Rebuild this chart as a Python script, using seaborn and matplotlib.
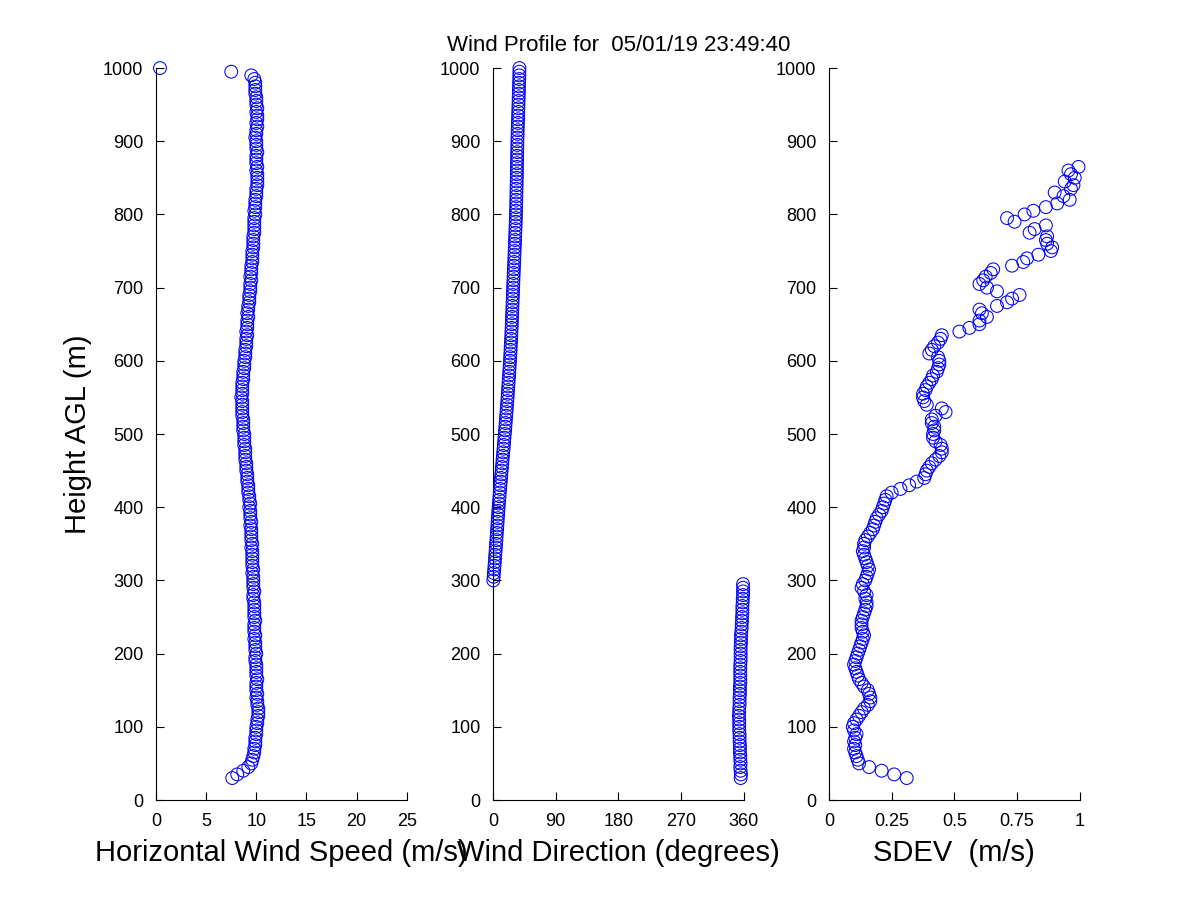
import matplotlib
matplotlib.use("Agg")
import matplotlib.pyplot as plt
import numpy as np
import pandas as pd
import seaborn as sns

# range gates (m AGL)
heights = [
    30, 35, 40, 45, 50, 55, 60, 65, 70, 75,
    80, 85, 90, 95, 100, 105, 110, 115, 120, 125,
    130, 135, 140, 145, 150, 155, 160, 165, 170, 175,
    180, 185, 190, 195, 200, 205, 210, 215, 220, 225,
    230, 235, 240, 245, 250, 255, 260, 265, 270, 275,
    280, 285, 290, 295, 300, 305, 310, 315, 320, 325,
    330, 335, 340, 345, 350, 355, 360, 365, 370, 375,
    380, 385, 390, 395, 400, 405, 410, 415, 420, 425,
    430, 435, 440, 445, 450, 455, 460, 465, 470, 475,
    480, 485, 490, 495, 500, 505, 510, 515, 520, 525,
    530, 535, 540, 545, 550, 555, 560, 565, 570, 575,
    580, 585, 590, 595, 600, 605, 610, 615, 620, 625,
    630, 635, 640, 645, 650, 655, 660, 665, 670, 675,
    680, 685, 690, 695, 700, 705, 710, 715, 720, 725,
    730, 735, 740, 745, 750, 755, 760, 765, 770, 775,
    780, 785, 790, 795, 800, 805, 810, 815, 820, 825,
    830, 835, 840, 845, 850, 855, 860, 865, 870, 875,
    880, 885, 890, 895, 900, 905, 910, 915, 920, 925,
    930, 935, 940, 945, 950, 955, 960, 965, 970, 975,
    980, 985, 990, 995, 1000,
]

# horizontal wind speed (m/s)
speed = [
    7.6, 8.1, 8.7, 9.2, 9.5, 9.6, 9.7, 9.8, 9.8, 9.9,
    9.9, 9.9, 10.0, 10.0, 10.0, 10.1, 10.1, 10.2, 10.2, 10.2,
    10.1, 10.1, 10.0, 10.1, 10.0, 10.0, 10.0, 10.1, 10.0, 10.0,
    10.0, 10.0, 9.9, 9.9, 10.0, 9.9, 9.9, 9.9, 9.8, 9.9,
    9.8, 9.8, 9.8, 9.9, 9.8, 9.8, 9.8, 9.8, 9.8, 9.7,
    9.7, 9.8, 9.7, 9.7, 9.7, 9.7, 9.6, 9.7, 9.6, 9.6,
    9.6, 9.6, 9.6, 9.5, 9.6, 9.5, 9.5, 9.5, 9.5, 9.4,
    9.5, 9.4, 9.4, 9.4, 9.3, 9.4, 9.3, 9.3, 9.2, 9.2,
    9.2, 9.1, 9.1, 9.1, 9.0, 9.0, 9.0, 8.9, 8.9, 8.9,
    8.9, 8.8, 8.8, 8.8, 8.8, 8.7, 8.7, 8.7, 8.7, 8.6,
    8.6, 8.6, 8.6, 8.6, 8.5, 8.6, 8.6, 8.6, 8.6, 8.7,
    8.7, 8.7, 8.8, 8.8, 8.8, 8.9, 8.9, 8.9, 9.0, 9.0,
    9.0, 9.1, 9.0, 9.1, 9.1, 9.1, 9.2, 9.1, 9.2, 9.2,
    9.3, 9.3, 9.3, 9.4, 9.4, 9.4, 9.5, 9.4, 9.5, 9.5,
    9.5, 9.6, 9.6, 9.6, 9.6, 9.7, 9.7, 9.7, 9.7, 9.8,
    9.8, 9.8, 9.8, 9.8, 9.9, 9.8, 9.9, 9.9, 9.9, 10.0,
    10.0, 10.0, 10.1, 10.1, 10.1, 10.1, 10.0, 10.1, 10.0, 10.0,
    10.0, 10.1, 10.0, 10.0, 10.0, 9.9, 10.0, 10.0, 10.1, 10.0,
    10.1, 10.1, 10.0, 10.1, 10.0, 10.0, 10.0, 9.9, 9.9, 9.9,
    9.9, 9.8, 9.5, 7.5, 0.4,
]

# wind direction (deg), 30-295 m then 300-1000 m
direction_low = [
    355.5, 356, 355.5, 355, 355.5, 355, 355, 354.5, 354.5, 354.5,
    354, 354, 354, 353.5, 353.5, 353.5, 353.5, 353, 353.5, 353.5,
    354, 354, 354, 354.5, 354.5, 354.5, 355, 355, 355, 355,
    355, 355, 355.5, 355.5, 355.5, 355.5, 355.5, 356, 356, 356,
    356.5, 357, 357, 357.5, 357.5, 358, 358, 358, 358.5, 358.5,
    359, 359, 359, 359,
]
direction_high = [
    0.5, 1.0, 1.3, 1.8, 2.2, 2.6, 3.0, 3.3, 3.8, 4.1,
    4.5, 4.9, 5.2, 5.6, 6.0, 6.3, 6.7, 7.0, 7.4, 7.7,
    8.1, 8.5, 9.0, 9.4, 9.8, 10.3, 10.7, 11.2, 11.6, 12.0,
    12.5, 12.9, 13.4, 13.8, 14.3, 14.7, 15.2, 15.6, 16.1, 16.5,
    17.0, 17.4, 17.8, 18.2, 18.6, 19.0, 19.5, 19.8, 20.2, 20.6,
    21.0, 21.3, 21.7, 22.0, 22.4, 22.7, 23.1, 23.4, 23.8, 24.1,
    24.5, 24.7, 25.0, 25.3, 25.5, 25.8, 26.0, 26.3, 26.5, 26.8,
    27.0, 27.2, 27.4, 27.6, 27.8, 28.0, 28.2, 28.4, 28.6, 28.8,
    29.0, 29.2, 29.4, 29.6, 29.8, 30.0, 30.2, 30.5, 30.7, 30.9,
    31.1, 31.3, 31.5, 31.7, 31.9, 32.1, 32.3, 32.5, 32.7, 32.9,
    33.0, 33.1, 33.3, 33.4, 33.5, 33.6, 33.7, 33.8, 34.0, 34.1,
    34.2, 34.3, 34.4, 34.4, 34.5, 34.6, 34.7, 34.8, 34.9, 35.0,
    35.1, 35.2, 35.4, 35.5, 35.7, 35.8, 36.0, 36.1, 36.3, 36.5,
    36.6, 36.8, 36.9, 37.1, 37.2, 37.4, 37.5, 37.7, 37.8, 37.9,
    38.0,
]

# SDEV (m/s), 30-865 m (above that it is off the axis)
sdev = [
    0.31, 0.26, 0.21, 0.16, 0.12, 0.115, 0.11, 0.105, 0.10, 0.105,
    0.10, 0.105, 0.11, 0.10, 0.095, 0.10, 0.11, 0.12, 0.13, 0.14,
    0.155, 0.165, 0.165, 0.16, 0.155, 0.14, 0.13, 0.12, 0.115, 0.11,
    0.105, 0.10, 0.105, 0.11, 0.115, 0.12, 0.125, 0.13, 0.135, 0.14,
    0.135, 0.13, 0.13, 0.13, 0.135, 0.14, 0.145, 0.15, 0.15, 0.145,
    0.15, 0.14, 0.13, 0.135, 0.145, 0.15, 0.155, 0.16, 0.155, 0.15,
    0.145, 0.14, 0.135, 0.14, 0.14, 0.145, 0.155, 0.165, 0.175, 0.18,
    0.185, 0.19, 0.20, 0.21, 0.215, 0.22, 0.225, 0.23, 0.25, 0.285,
    0.32, 0.35, 0.38, 0.385, 0.39, 0.40, 0.41, 0.425, 0.44, 0.45,
    0.45, 0.445, 0.425, 0.415, 0.415, 0.42, 0.42, 0.41, 0.41, 0.425,
    0.465, 0.45, 0.39, 0.38, 0.375, 0.375, 0.385, 0.39, 0.40, 0.41,
    0.415, 0.43, 0.435, 0.44, 0.44, 0.435, 0.40, 0.41, 0.42, 0.435,
    0.445, 0.45, 0.52, 0.56, 0.60, 0.60, 0.63, 0.61, 0.60, 0.67,
    0.71, 0.73, 0.76, 0.67, 0.63, 0.60, 0.615, 0.625, 0.645, 0.655,
    0.73, 0.775, 0.79, 0.835, 0.885, 0.89, 0.87, 0.865, 0.87, 0.80,
    0.82, 0.865, 0.74, 0.71, 0.78, 0.815, 0.865, 0.91, 0.96, 0.935,
    0.90, 0.965, 0.975, 0.94, 0.98, 0.965, 0.955, 0.995,
]

df = pd.DataFrame({"height": heights, "speed": speed,
                   "direction": direction_low + direction_high})
df_sd = pd.DataFrame({"height": heights[:len(sdev)], "sdev": sdev})

sns.set_style("ticks")
plt.rcParams["font.family"] = ["Liberation Sans", "DejaVu Sans"]
plt.rcParams["xtick.direction"] = "in"
plt.rcParams["ytick.direction"] = "in"

fig = plt.figure(figsize=(12, 9), dpi=100)
fig.patch.set_facecolor("white")

lefts = [0.13, 0.4108, 0.6908]
axes = [fig.add_axes([l, 0.1111, 0.209, 0.8133]) for l in lefts]

mk = dict(s=85, marker="o", facecolors="none", edgecolor="#0000ff",
          linewidth=0.75, clip_on=False, legend=False, zorder=3)

sns.scatterplot(data=df, x="speed", y="height", ax=axes[0], **mk)
sns.scatterplot(data=df, x="direction", y="height", ax=axes[1], **mk)
sns.scatterplot(data=df_sd, x="sdev", y="height", ax=axes[2], **mk)

axes[0].set_xlim(0, 25)
axes[0].set_xticks([0, 5, 10, 15, 20, 25])
axes[1].set_xlim(0, 360)
axes[1].set_xticks([0, 90, 180, 270, 360])
axes[2].set_xlim(0, 1)
axes[2].set_xticks([0, 0.25, 0.5, 0.75, 1])
axes[2].set_xticklabels(["0", "0.25", "0.5", "0.75", "1"])

xlabels = ["Horizontal Wind Speed (m/s)", "Wind Direction (degrees)", "SDEV  (m/s)"]
for ax, lab in zip(axes, xlabels):
    ax.set_ylim(0, 1000)
    ax.set_yticks(range(0, 1001, 100))
    sns.despine(ax=ax)
    for sp in ["left", "bottom"]:
        ax.spines[sp].set_color("black")
        ax.spines[sp].set_linewidth(0.8)
    ax.tick_params(axis="both", which="major", direction="in", bottom=True,
                   left=True, labelsize=13, length=5.5, width=0.8,
                   color="black", labelcolor="black", pad=9)
    ax.set_xlabel(lab, fontsize=21, labelpad=7, color="black")
    ax.set_ylabel("")

axes[0].set_ylabel("Height AGL (m)", fontsize=21, labelpad=8, color="black")
axes[1].set_title("Wind Profile for  05/01/19 23:49:40", fontsize=16,
                  pad=12, color="black")

fig.savefig("out.png", dpi=100, facecolor="white")
